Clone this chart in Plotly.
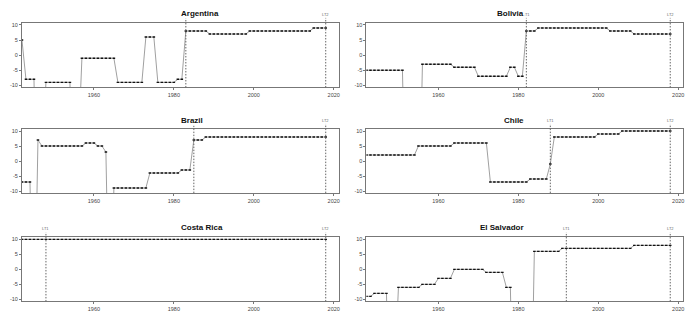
import plotly.graph_objects as go

years = list(range(1942, 2019))

argentina = [
    5, -8, -8, -8, -66, -66, -9, -9,
    -9, -9, -9, -9, -9, -66, -66, -1, -1, -1,
    -1, -1, -1, -1, -1, -1, -9, -9, -9, -9,
    -9, -9, -9, 6, 6, 6, -9, -9, -9, -9,
    -9, -8, -8, 8, 8, 8, 8, 8, 8, 7,
    7, 7, 7, 7, 7, 7, 7, 7, 7, 8,
    8, 8, 8, 8, 8, 8, 8, 8, 8, 8,
    8, 8, 8, 8, 8, 9, 9, 9, 9,
]
bolivia = [
    -5, -5, -5, -5, -5, -5, -5, -5,
    -5, -5, -66, -66, -66, -66, -3, -3, -3, -3,
    -3, -3, -3, -3, -4, -4, -4, -4, -4, -4,
    -7, -7, -7, -7, -7, -7, -7, -7, -4, -4,
    -7, -7, 8, 8, 8, 9, 9, 9, 9, 9,
    9, 9, 9, 9, 9, 9, 9, 9, 9, 9,
    9, 9, 9, 8, 8, 8, 8, 8, 8, 7,
    7, 7, 7, 7, 7, 7, 7, 7, 7,
]
brazil = [
    -7, -7, -7, -66, 7, 5, 5, 5,
    5, 5, 5, 5, 5, 5, 5, 5, 6, 6,
    6, 5, 5, 3, -66, -9, -9, -9, -9, -9,
    -9, -9, -9, -9, -4, -4, -4, -4, -4, -4,
    -4, -4, -3, -3, -3, 7, 7, 7, 8, 8,
    8, 8, 8, 8, 8, 8, 8, 8, 8, 8,
    8, 8, 8, 8, 8, 8, 8, 8, 8, 8,
    8, 8, 8, 8, 8, 8, 8, 8, 8,
]
chile = [
    2, 2, 2, 2, 2, 2, 2, 2,
    2, 2, 2, 2, 2, 5, 5, 5, 5, 5,
    5, 5, 5, 5, 6, 6, 6, 6, 6, 6,
    6, 6, 6, -7, -7, -7, -7, -7, -7, -7,
    -7, -7, -7, -6, -6, -6, -6, -6, -1, 8,
    8, 8, 8, 8, 8, 8, 8, 8, 8, 8,
    9, 9, 9, 9, 9, 9, 10, 10, 10, 10,
    10, 10, 10, 10, 10, 10, 10, 10, 10,
]
costa_rica = [
    10, 10, 10, 10, 10, 10, 10, 10,
    10, 10, 10, 10, 10, 10, 10, 10, 10, 10,
    10, 10, 10, 10, 10, 10, 10, 10, 10, 10,
    10, 10, 10, 10, 10, 10, 10, 10, 10, 10,
    10, 10, 10, 10, 10, 10, 10, 10, 10, 10,
    10, 10, 10, 10, 10, 10, 10, 10, 10, 10,
    10, 10, 10, 10, 10, 10, 10, 10, 10, 10,
    10, 10, 10, 10, 10, 10, 10, 10, 10,
]
el_salvador = [
    -9, -9, -8, -8, -8, -8, -66, -66,
    -6, -6, -6, -6, -6, -6, -5, -5, -5, -5,
    -3, -3, -3, -3, 0, 0, 0, 0, 0, 0,
    0, 0, -1, -1, -1, -1, -1, -6, -6, -66,
    -66, -66, -66, -66, 6, 6, 6, 6, 6, 6,
    6, 7, 7, 7, 7, 7, 7, 7, 7, 7,
    7, 7, 7, 7, 7, 7, 7, 7, 7, 8,
    8, 8, 8, 8, 8, 8, 8, 8, 8,
]

countries = ["Argentina", "Bolivia", "Brazil", "Chile", "Costa Rica", "El Salvador"]
series = [argentina, bolivia, brazil, chile, costa_rica, el_salvador]
lt1_years = [1983, 1982, 1985, 1988, 1948, 1992]
lt2_years = [2018, 2018, 2018, 2018, 2018, 2018]
x_ticks = [1960, 1980, 2000, 2020]
y_ticks = [-10, -5, 0, 5, 10]

W, H = 700, 325
col_px = [(22, 339), (367, 684)]
row_px = [(22, 87), (128.7, 193.3), (237.7, 302.3)]
title_py = [13, 120, 228]

FONT = "Liberation Sans, Arial, sans-serif"
fig = go.Figure()
annotations = []
shapes = []
layout = {}

for i, (name, vals) in enumerate(zip(countries, series)):
    r, c = divmod(i, 2)
    n = i + 1
    xa = "x" if n == 1 else f"x{n}"
    ya = "y" if n == 1 else f"y{n}"
    x0, x1 = col_px[c]
    y0, y1 = row_px[r]
    xdom = [x0 / W, x1 / W]
    ydom = [1 - y1 / H, 1 - y0 / H]
    fig.add_trace(go.Scatter(
        x=years, y=vals, xaxis=xa, yaxis=ya, mode="lines",
        line=dict(color="#a0a0a0", width=1),
        showlegend=False, hoverinfo="skip",
    ))
    fig.add_trace(go.Scatter(
        x=years, y=vals, xaxis=xa, yaxis=ya, mode="markers",
        marker=dict(symbol="line-ew", size=1.8, line=dict(color="#111", width=1.4)),
        showlegend=False, hoverinfo="skip",
    ))
    axis_common = dict(showline=True, mirror=True, linecolor="#777", linewidth=1,
                       showgrid=False, zeroline=False, ticks="outside", ticklen=2,
                       tickcolor="#777", tickwidth=1,
                       tickfont=dict(family=FONT, size=5.5, color="#444"))
    layout["xaxis" if n == 1 else f"xaxis{n}"] = dict(
        domain=xdom, range=[1942, 2021.2], anchor=ya, tickvals=x_ticks,
        ticktext=[str(t) for t in x_ticks], **axis_common)
    layout["yaxis" if n == 1 else f"yaxis{n}"] = dict(
        domain=ydom, range=[-10.7, 10.7], anchor=xa, tickvals=y_ticks,
        ticktext=[str(t) for t in y_ticks], **axis_common)
    ext = 1 + 5 / (y1 - y0)
    for lab, yr in (("LT1", lt1_years[i]), ("LT2", lt2_years[i])):
        shapes.append(dict(type="line", xref=xa, yref=f"{ya} domain",
                           x0=yr, x1=yr, y0=0, y1=ext,
                           line=dict(color="#666", width=1, dash="1.5px,1.5px")))
        annotations.append(dict(x=yr, xref=xa, y=ext, yref=f"{ya} domain",
                                text=lab, showarrow=False, yanchor="bottom",
                                xshift=5 if lab == "LT1" and name == "Brazil" else 0,
                                borderpad=0,
                                font=dict(family=FONT, size=4, color="#666")))
    annotations.append(dict(x=(xdom[0] + xdom[1]) / 2, xref="paper",
                            y=1 - title_py[r] / H, yref="paper", text=f"<b>{name}</b>",
                            showarrow=False, yanchor="middle", bgcolor="white",
                            borderpad=0,
                            font=dict(family=FONT, size=8, color="#111")))

fig.update_layout(width=W, height=H, margin=dict(l=0, r=0, t=0, b=0),
                  paper_bgcolor="white", plot_bgcolor="white",
                  annotations=annotations, shapes=shapes, **layout)
fig.write_html("out.html")
